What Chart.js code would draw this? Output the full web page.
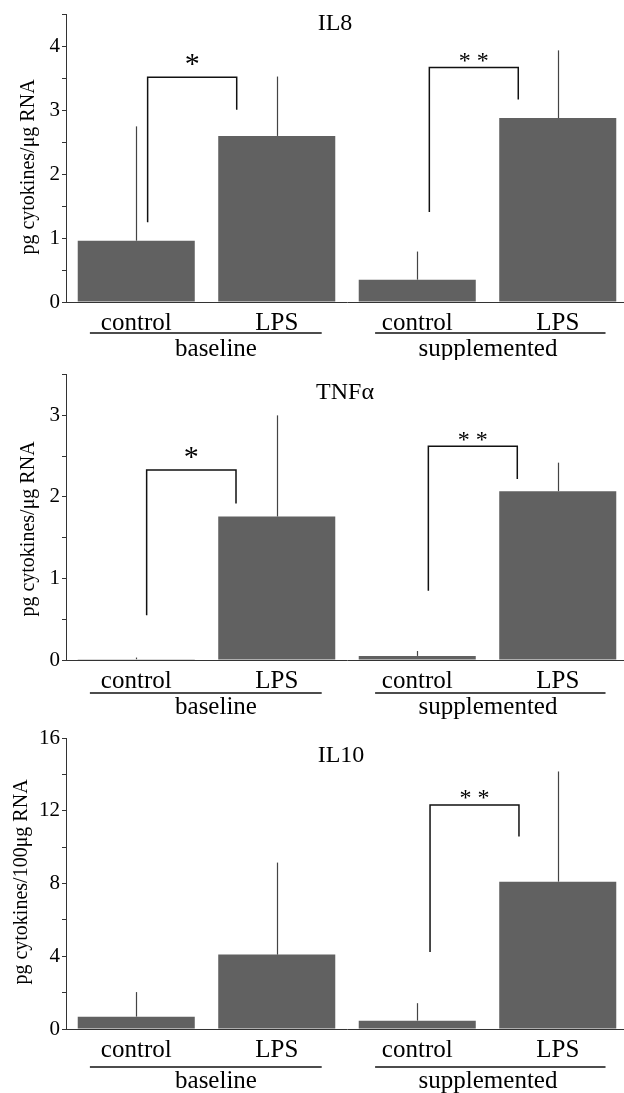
<!DOCTYPE html>
<html>
<head>
<meta charset="utf-8">
<script src="https://cdn.jsdelivr.net/npm/chart.js@4/dist/chart.umd.min.js"></script>
<style>
html, body { margin: 0; padding: 0; background: #fff; overflow: hidden; }
#wrap { position: relative; width: 624px; height: 1093px; overflow: hidden; }
canvas { position: absolute; left: 0; }
</style>
</head>
<body>
<div id="wrap">
    <canvas id="il8" width="630" height="360" style="top:0px"></canvas>
    <canvas id="tnf" width="630" height="360" style="top:360px"></canvas>
    <canvas id="il10" width="630" height="373" style="top:720px"></canvas>
</div>
<script>
// categories shared by the three panels
const categories = ["control", "LPS", "control", "LPS"];
const groupNames = ["baseline", "supplemented"];

// IL8 (pg cytokines/µg RNA)
const il8Means = [0.96, 2.60, 0.35, 2.88];
const il8ErrTop = [2.75, 3.53, 0.79, 3.94];
// bracket: [x left, x right, left foot, top, right foot, label]
const il8Brackets = [
    [0.081, 0.715, 1.25, 3.52, 3.01, "*"],
    [2.086, 2.719, 1.41, 3.67, 3.17, "**"]
];

// TNFα
const tnfMeans = [0.01, 1.76, 0.05, 2.07];
const tnfErrTop = [0.03, 3.00, 0.11, 2.42];
const tnfBrackets = [
    [0.074, 0.710, 0.55, 2.33, 1.92, "*"],
    [2.079, 2.712, 0.85, 2.62, 2.22, "**"]
];

// IL10 (pg cytokines/100µg RNA)
const il10Means = [0.68, 4.09, 0.46, 8.10];
const il10ErrTop = [2.03, 9.15, 1.42, 14.16];
const il10Brackets = [
    [2.091, 2.724, 4.24, 12.32, 10.59, "**"]
];

const SERIF = '"Liberation Serif", "Times New Roman", serif';
const BAR = "#616161";
const AXIS = "#333333";

// where the group underlines run, in category units
const groupSpans = [[-0.33, 1.32], [1.70, 3.34]];

function decorations(p) {
    return {
        id: "decor_" + p.id,
        afterDraw(chart) {
            const ctx = chart.ctx;
            const x = chart.scales.x;
            const y = chart.scales.y;
            const axisY = y.getPixelForValue(0);

            ctx.save();

            // error bars (upper only)
            ctx.strokeStyle = "#444";
            ctx.lineWidth = 1.2;
            p.means.forEach((m, i) => {
                const px = Math.round(x.getPixelForValue(i)) + 0.5;
                ctx.beginPath();
                ctx.moveTo(px, y.getPixelForValue(m));
                ctx.lineTo(px, y.getPixelForValue(p.errTop[i]));
                ctx.stroke();
            });

            // significance brackets
            ctx.strokeStyle = "#111";
            ctx.lineWidth = 1.5;
            ctx.fillStyle = "#000";
            ctx.textAlign = "center";
            ctx.textBaseline = "middle";
            p.brackets.forEach(b => {
                const x0 = x.getPixelForValue(b[0]);
                const x1 = x.getPixelForValue(b[1]);
                const top = y.getPixelForValue(b[3]);
                ctx.beginPath();
                ctx.moveTo(x0, y.getPixelForValue(b[2]));
                ctx.lineTo(x0, top);
                ctx.lineTo(x1, top);
                ctx.lineTo(x1, y.getPixelForValue(b[4]));
                ctx.stroke();
                if (b[5] === "*") {
                    ctx.font = "30px " + SERIF;
                    ctx.fillText("*", (x0 + x1) / 2, top - 12);
                } else {
                    ctx.font = "24px " + SERIF;
                    ctx.fillText("* *", (x0 + x1) / 2, top - 6);
                }
            });

            // group underline + group name
            ctx.lineWidth = 1.5;
            ctx.strokeStyle = "#111";
            ctx.font = "25px " + SERIF;
            ctx.textBaseline = "alphabetic";
            groupSpans.forEach((s, g) => {
                const a = x.getPixelForValue(s[0]);
                const b = x.getPixelForValue(s[1]);
                ctx.beginPath();
                ctx.moveTo(a, axisY + p.lineOff);
                ctx.lineTo(b, axisY + p.lineOff);
                ctx.stroke();
                ctx.fillText(groupNames[g], p.groupX[g], axisY + p.groupOff);
            });

            // panel title
            ctx.font = "24px " + SERIF;
            ctx.textBaseline = "middle";
            ctx.fillText(p.title, p.titleX, p.titleY);

            // y axis title
            ctx.font = "20px " + SERIF;
            ctx.translate(p.yTitleX, p.yTitleY);
            ctx.rotate(-Math.PI / 2);
            ctx.fillText(p.yTitle, 0, 0);

            ctx.restore();
        }
    };
}

function makeChart(p) {
    const canvas = document.getElementById(p.id);
    new Chart(canvas, {
        type: "bar",
        data: {
            labels: categories,
            datasets: [{
                data: p.means,
                backgroundColor: BAR,
                borderWidth: 0,
                barPercentage: 0.833,
                categoryPercentage: 1
            }]
        },
        options: {
            responsive: false,
            animation: false,
            devicePixelRatio: 1,
            layout: { padding: { top: p.areaTop, right: 2, left: 0, bottom: 0 } },
            plugins: {
                legend: { display: false },
                tooltip: { enabled: false }
            },
            scales: {
                x: {
                    grid: { display: false, drawTicks: false },
                    border: { display: true, color: AXIS, width: 1 },
                    ticks: {
                        color: "#000",
                        font: { family: SERIF, size: 25 },
                        padding: 6,
                        maxRotation: 0,
                        autoSkip: false
                    },
                    afterFit: s => { s.height = p.xHeight; }
                },
                y: {
                    min: 0,
                    max: p.max,
                    grid: {
                        display: true,
                        drawOnChartArea: false,
                        drawTicks: true,
                        tickLength: 4,
                        color: AXIS
                    },
                    border: { display: true, color: AXIS, width: 1 },
                    ticks: {
                        stepSize: p.step,
                        autoSkip: false,
                        color: "#000",
                        font: { family: SERIF, size: 21 },
                        padding: 2,
                        callback: v => (Math.abs(v / p.labelEvery - Math.round(v / p.labelEvery)) < 1e-6 ? String(v) : "")
                    },
                    afterFit: s => { s.width = 66; }
                }
            }
        },
        plugins: [decorations(p)]
    });
}

makeChart({
    id: "il8", means: il8Means, errTop: il8ErrTop, brackets: il8Brackets,
    max: 4.5, step: 0.5, labelEvery: 1,
    areaTop: 12, xHeight: 58,
    lineOff: 31, groupOff: 54, groupX: [216, 488],
    title: "IL8", titleX: 335, titleY: 24,
    yTitle: "pg cytokines/μg RNA", yTitleX: 29, yTitleY: 167
});

makeChart({
    id: "tnf", means: tnfMeans, errTop: tnfErrTop, brackets: tnfBrackets,
    max: 3.5, step: 0.5, labelEvery: 1,
    areaTop: 10, xHeight: 60,
    lineOff: 33, groupOff: 54, groupX: [216, 488],
    title: "TNFα", titleX: 345, titleY: 33,
    yTitle: "pg cytokines/μg RNA", yTitleX: 29, yTitleY: 169
});

makeChart({
    id: "il10", means: il10Means, errTop: il10ErrTop, brackets: il10Brackets,
    max: 16, step: 2, labelEvery: 4,
    areaTop: 18, xHeight: 64,
    lineOff: 38, groupOff: 59, groupX: [216, 488],
    title: "IL10", titleX: 341, titleY: 36,
    yTitle: "pg cytokines/100μg RNA", yTitleX: 22, yTitleY: 162
});
</script>
</body>
</html>
